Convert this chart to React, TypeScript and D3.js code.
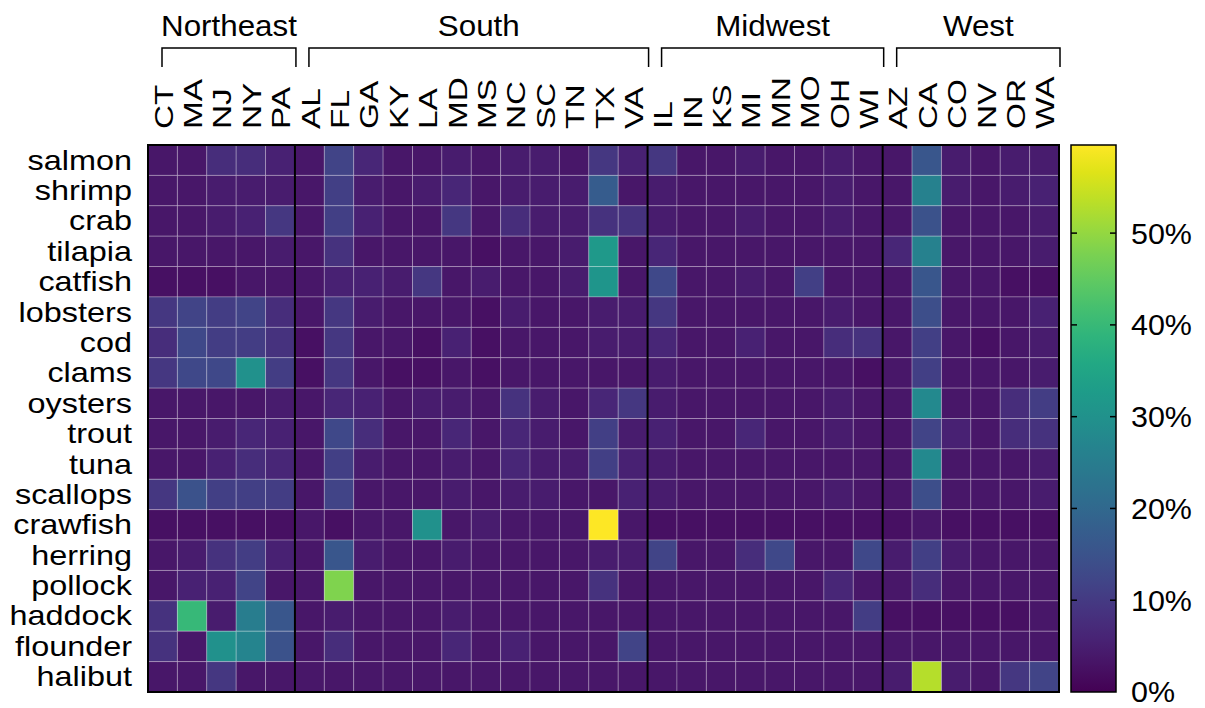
import React, { useRef, useEffect } from 'react';
import * as d3 from 'd3';

// states grouped by census region
const regions = ['Northeast', 'South', 'Midwest', 'West'];
const northeast = ['CT', 'MA', 'NJ', 'NY', 'PA'];
const south = ['AL', 'FL', 'GA', 'KY', 'LA', 'MD', 'MS', 'NC', 'SC', 'TN', 'TX', 'VA'];
const midwest = ['IL', 'IN', 'KS', 'MI', 'MN', 'MO', 'OH', 'WI'];
const west = ['AZ', 'CA', 'CO', 'NV', 'OR', 'WA'];
const groups = [northeast, south, midwest, west];
const states = groups.flat();

const fish = ['salmon', 'shrimp', 'crab', 'tilapia', 'catfish', 'lobsters', 'cod', 'clams', 'oysters',
  'trout', 'tuna', 'scallops', 'crawfish', 'herring', 'pollock', 'haddock', 'flounder', 'halibut'];

// percent share, one row per fish, columns follow `states`
const values = [
  [3.5, 3.5, 7.5, 7.5, 5.5, 3.5, 12, 6.5, 3.5, 3.5, 4.5, 3.5, 4.5, 4.5, 3.5, 9.5, 5.5, 9.5, 3.5, 3.5, 4.5, 3.5, 3.5, 4.5, 3.5, 3.5, 16, 4.5, 3.5, 4.5, 4.5],
  [3.5, 3.5, 4.5, 4.5, 4.5, 3.5, 11, 4.5, 3.5, 4.5, 6.5, 3.5, 4.5, 4.5, 4.5, 17, 3.5, 4.5, 3.5, 3.5, 3.5, 3.5, 3.5, 4.5, 3.5, 3.5, 26, 4.5, 3.5, 4.5, 5.5],
  [3.5, 3.5, 4.5, 5.5, 9.5, 3.5, 11, 5.5, 3.5, 3.5, 9.5, 3.5, 7.5, 4.5, 4.5, 8.5, 8.5, 4.5, 3.5, 3.5, 4.5, 3.5, 3.5, 4.5, 3.5, 3.5, 15, 3.5, 3.5, 3.5, 4.5],
  [3.5, 3.5, 3.5, 3.5, 4.5, 3.5, 8.5, 3.5, 3.5, 3.5, 3.5, 2.5, 3.5, 3.5, 4.5, 32, 3.5, 6.5, 3.5, 3.5, 3.5, 3.5, 3.5, 3.5, 3.5, 6.5, 26, 3.5, 3.5, 3.5, 4.5],
  [2.5, 2.5, 2.5, 3.5, 3.5, 3.5, 5.5, 5.5, 4.5, 9.5, 3.5, 4.5, 3.5, 3.5, 4.5, 31, 3.5, 13, 3.5, 3.5, 4.5, 3.5, 11, 3.5, 3.5, 3.5, 16, 3.5, 3.5, 2.5, 2.5],
  [9.5, 12, 10.5, 12, 7.5, 3.5, 9.5, 4.5, 3.5, 3.5, 3.5, 2.5, 4.5, 3.5, 3.5, 4.5, 4.5, 9.5, 3.5, 3.5, 3.5, 3.5, 3.5, 4.5, 3.5, 3.5, 14, 3.5, 3.5, 3.5, 5.5],
  [7.5, 13, 10.5, 10.5, 8.5, 2.5, 9.5, 3.5, 3.5, 2.5, 5.5, 2.5, 3.5, 3.5, 3.5, 4.5, 4.5, 6.5, 3.5, 3.5, 5.5, 3.5, 3.5, 7.5, 8.5, 3.5, 11, 3.5, 2.5, 3.5, 4.5],
  [9.5, 13, 13, 30, 10.5, 2.5, 9.5, 3.5, 2.5, 2.5, 3.5, 2.5, 3.5, 3.5, 3.5, 3.5, 3.5, 4.5, 3.5, 3.5, 3.5, 3.5, 3.5, 3.5, 2.5, 3.5, 11, 3.5, 3.5, 3.5, 4.5],
  [3.5, 3.5, 3.5, 3.5, 4.5, 3.5, 6.5, 5.5, 3.5, 4.5, 4.5, 3.5, 8.5, 4.5, 3.5, 6.5, 9.5, 4.5, 3.5, 3.5, 3.5, 3.5, 3.5, 4.5, 3.5, 3.5, 28, 3.5, 3.5, 7.5, 10.5],
  [3.5, 3.5, 4.5, 6.5, 5.5, 3.5, 13, 7.5, 3.5, 3.5, 6.5, 3.5, 6.5, 4.5, 3.5, 11, 4.5, 5.5, 3.5, 3.5, 6.5, 3.5, 3.5, 4.5, 3.5, 3.5, 12, 5.5, 3.5, 7.5, 8.5],
  [3.5, 3.5, 5.5, 7.5, 6.5, 3.5, 11, 4.5, 3.5, 3.5, 4.5, 3.5, 6.5, 4.5, 4.5, 11, 5.5, 4.5, 3.5, 3.5, 3.5, 3.5, 3.5, 3.5, 3.5, 3.5, 28, 3.5, 3.5, 3.5, 4.5],
  [9.5, 15, 11, 11, 10.5, 3.5, 12, 3.5, 3.5, 3.5, 4.5, 3.5, 4.5, 4.5, 3.5, 3.5, 5.5, 4.5, 3.5, 3.5, 3.5, 3.5, 3.5, 4.5, 3.5, 3.5, 14, 3.5, 3.5, 3.5, 4.5],
  [2.5, 2.5, 2.5, 2.5, 2.5, 3.5, 2.5, 3.5, 3.5, 30, 3.5, 4.5, 3.5, 3.5, 3.5, 59.6, 3.5, 2.5, 2.5, 2.5, 2.5, 2.5, 2.5, 2.5, 2.5, 2.5, 3.5, 2.5, 2.5, 2.5, 2.5],
  [3.5, 4.5, 8.5, 10.5, 5.5, 3.5, 16, 4.5, 3.5, 3.5, 4.5, 3.5, 3.5, 3.5, 3.5, 4.5, 4.5, 12, 3.5, 3.5, 7.5, 13, 3.5, 3.5, 13, 4.5, 11, 4.5, 3.5, 3.5, 3.5],
  [3.5, 5.5, 5.5, 12, 3.5, 3.5, 48, 3.5, 3.5, 3.5, 3.5, 3.5, 3.5, 3.5, 3.5, 8.5, 3.5, 3.5, 3.5, 3.5, 3.5, 3.5, 3.5, 6.5, 3.5, 3.5, 7.5, 3.5, 3.5, 3.5, 3.5],
  [8.5, 40, 4.5, 25, 16, 3.5, 4.5, 3.5, 3.5, 3.5, 4.5, 3.5, 3.5, 3.5, 3.5, 3.5, 3.5, 3.5, 3.5, 3.5, 3.5, 3.5, 3.5, 3.5, 10.5, 2.5, 2.5, 2.5, 2.5, 2.5, 3.5],
  [8.5, 3.5, 30, 27, 15, 3.5, 7.5, 3.5, 3.5, 3.5, 6.5, 3.5, 5.5, 3.5, 3.5, 3.5, 12, 3.5, 3.5, 3.5, 3.5, 3.5, 3.5, 3.5, 3.5, 3.5, 3.5, 3.5, 3.5, 3.5, 3.5],
  [3.5, 3.5, 9.5, 3.5, 3.5, 3.5, 3.5, 3.5, 3.5, 3.5, 3.5, 3.5, 3.5, 3.5, 3.5, 3.5, 3.5, 3.5, 3.5, 3.5, 3.5, 3.5, 3.5, 3.5, 3.5, 4.5, 53, 4.5, 3.5, 9.5, 12],
];

const colorMax = 59.6;
const colorTicks = [0, 10, 20, 30, 40, 50];

const FONT = '"Liberation Sans", Arial, Helvetica, sans-serif';

const Heatmap = () => {
  const ref = useRef(null);
  const left = 148, right = 1059, top = 145, bottom = 692;

  useEffect(() => {
    const svg = d3.select(ref.current);
    svg.selectAll('*').remove();

    const x = d3.scaleBand().domain(states).range([left, right]);
    const y = d3.scaleBand().domain(fish).range([top, bottom]);
    const color = d3.scaleSequential(d3.interpolateViridis).domain([0, colorMax]);

    const cells = fish.flatMap((f, i) => states.map((s, j) => ({ f, s, v: values[i][j] })));

    svg.append('g')
      .selectAll('rect')
      .data(cells)
      .enter()
      .append('rect')
      .attr('x', d => x(d.s))
      .attr('y', d => y(d.f))
      .attr('width', x.bandwidth())
      .attr('height', y.bandwidth())
      .attr('fill', d => color(d.v))
      .attr('stroke', 'rgba(255,255,255,0.25)')
      .attr('stroke-width', 1);

    // region separators
    let offset = 0;
    groups.slice(0, -1).forEach(g => {
      offset += g.length;
      const sx = x(states[offset]);
      svg.append('line')
        .attr('x1', sx).attr('x2', sx)
        .attr('y1', top).attr('y2', bottom)
        .attr('stroke', '#000').attr('stroke-width', 2);
    });

    svg.append('rect')
      .attr('x', left).attr('y', top)
      .attr('width', right - left).attr('height', bottom - top)
      .attr('fill', 'none').attr('stroke', '#000').attr('stroke-width', 2);

    // row labels
    svg.append('g')
      .selectAll('text')
      .data(fish)
      .enter()
      .append('text')
      .attr('transform', d => `translate(${left - 16},${y(d) + y.bandwidth() / 2}) scale(1.2,1)`)
      .attr('dy', '0.35em')
      .attr('text-anchor', 'end')
      .style('font-family', FONT)
      .style('font-size', '27px')
      .attr('fill', '#000')
      .text(d => d);

    // column labels
    svg.append('g')
      .selectAll('text')
      .data(states)
      .enter()
      .append('text')
      .attr('transform', d => `translate(${x(d) + x.bandwidth() / 2 + 10},129) rotate(-90) scale(1.26,1)`)
      .attr('text-anchor', 'start')
      .style('font-family', FONT)
      .style('font-size', '26.5px')
      .attr('fill', '#000')
      .text(d => d);

    // region brackets
    let start = 0;
    groups.forEach((g, i) => {
      const x0 = x(states[start]) + 14;
      const x1 = x(states[start + g.length - 1]) + x.bandwidth() + 1;
      start += g.length;
      svg.append('path')
        .attr('d', `M${x0},67V48H${x1}V67`)
        .attr('fill', 'none')
        .attr('stroke', '#000')
        .attr('stroke-width', 1.5);
      svg.append('text')
        .attr('transform', `translate(${(x0 + x1) / 2},36) scale(1.08,1)`)
        .attr('text-anchor', 'middle')
        .style('font-family', FONT)
        .style('font-size', '29px')
        .attr('fill', '#000')
        .text(regions[i]);
    });

    // colorbar
    const cbX = 1071, cbW = 45;
    const cy = d3.scaleLinear().domain([0, colorMax]).range([bottom, top]);
    const defs = svg.append('defs');
    const grad = defs.append('linearGradient')
      .attr('id', 'cbgrad')
      .attr('x1', 0).attr('y1', 1).attr('x2', 0).attr('y2', 0);
    d3.range(0, 1.0001, 0.05).forEach(t => {
      grad.append('stop').attr('offset', t).attr('stop-color', d3.interpolateViridis(t));
    });
    svg.append('rect')
      .attr('x', cbX).attr('y', top)
      .attr('width', cbW).attr('height', bottom - top)
      .attr('fill', 'url(#cbgrad)')
      .attr('stroke', '#000').attr('stroke-width', 1.5);

    const tg = svg.append('g');
    colorTicks.forEach(t => {
      const ty = cy(t);
      if (t > 0) {
        tg.append('line').attr('x1', cbX).attr('x2', cbX + 6).attr('y1', ty).attr('y2', ty)
          .attr('stroke', '#000').attr('stroke-width', 1.5);
        tg.append('line').attr('x1', cbX + cbW - 6).attr('x2', cbX + cbW).attr('y1', ty).attr('y2', ty)
          .attr('stroke', '#000').attr('stroke-width', 1.5);
      }
      tg.append('text')
        .attr('transform', `translate(${cbX + cbW + 15},${ty}) scale(1.05,1)`)
        .attr('dy', '0.36em')
        .style('font-family', FONT)
        .style('font-size', '29px')
        .attr('fill', '#000')
        .text(t + '%');
    });
  }, []);

  return <svg ref={ref} width={1205} height={708} style={{ display: 'block' }} />;
};

export default function App() {
  return (
    <div style={{ position: 'absolute', left: 0, top: 0, background: '#fff' }}>
      <Heatmap />
    </div>
  );
}
